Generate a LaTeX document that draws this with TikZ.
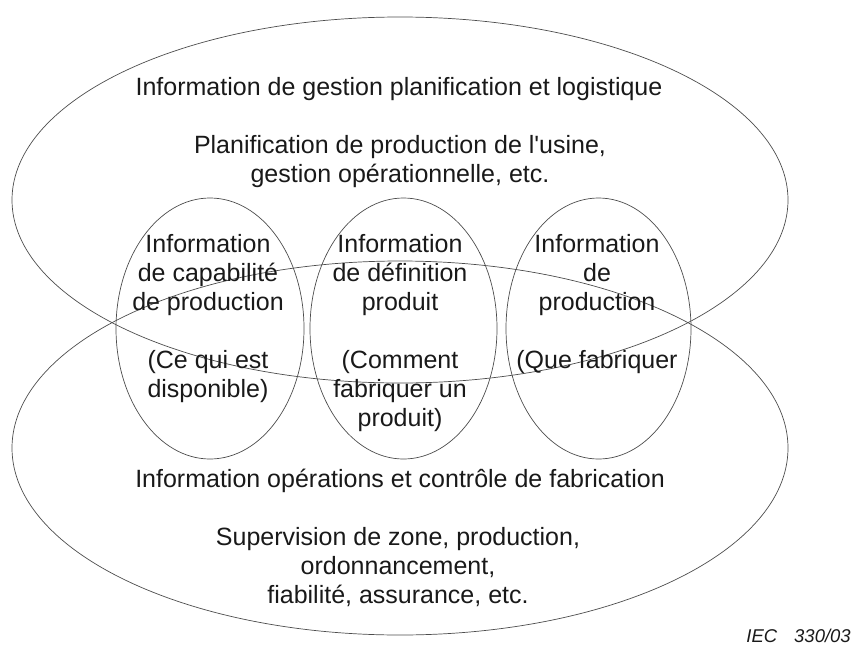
\documentclass[tikz,border=0pt]{standalone}
\usepackage{fontspec}
\setmainfont{Liberation Sans}[Ligatures=TeXOff]
\usetikzlibrary{shapes.geometric}
\newcommand\txtlines[1]{\begin{tabular}[t]{@{}c@{}}#1\end{tabular}}
\begin{document}
\begin{tikzpicture}[x=1pt,y=-1pt,
  oval/.style={draw=black!70, line width=0.7pt, ellipse, inner sep=0pt},
  label/.style={anchor=base, inner sep=0pt, text=black!90, font=\fontsize{25}{29}\selectfont}]
\useasboundingbox (0,0) rectangle (854,648);
% large ellipses
\node[oval, minimum width=776pt, minimum height=366pt] (top) at (400,200) {};
\node[oval, minimum width=776pt, minimum height=374pt] (bottom) at (400,448) {};
% small ellipses
\node[oval, minimum width=188pt, minimum height=261pt] (cap) at (210,328.5) {};
\node[oval, minimum width=187pt, minimum height=261pt] (def) at (403.5,328.5) {};
\node[oval, minimum width=185pt, minimum height=261pt] (prod) at (598.5,328.5) {};
% texts
\node[label] (t1) at (399,95) {Information de gestion planification et logistique};
\node[label] (t2) at (400,153) {\txtlines{Planification de production de l'usine,\\gestion opérationnelle, etc.}};
\node[label] (t3) at (208,252) {\txtlines{Information\\de capabilité\\de production\\ \\(Ce qui est\\disponible)}};
\node[label] (t4) at (400,252) {\txtlines{Information\\de définition\\produit\\ \\(Comment\\fabriquer un\\produit)}};
\node[label] (t5) at (597,252) {\txtlines{Information\\de\\production\\ \\(Que fabriquer}};
\node[label] (t6) at (400,487) {Information opérations et contrôle de fabrication};
\node[label] (t7) at (398,545) {\txtlines{Supervision de zone, production,\\ordonnancement,\\fiabilité, assurance, etc.}};
\node[anchor=base east, inner sep=0pt, text=black!90, font=\fontsize{18.5}{20}\selectfont\itshape] (iec) at (851,642) {IEC\hspace{17pt}330/03};
\end{tikzpicture}
\end{document}
